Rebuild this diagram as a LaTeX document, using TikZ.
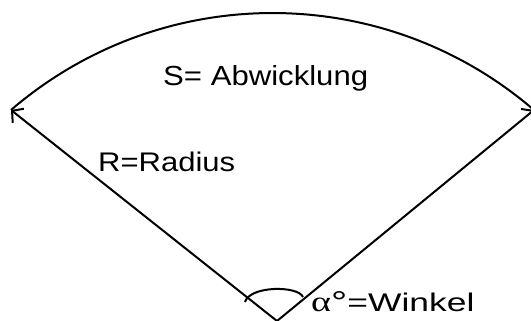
\documentclass[tikz,border=0pt]{standalone}
\usepackage{fontspec}
\setmainfont{Liberation Sans}
\newfontfamily\symfont{Liberation Serif}
\usetikzlibrary{arrows.meta}
\begin{document}
\begin{tikzpicture}[x=1pt,y=1pt,
  edge/.style={line width=2pt},
  tip/.style={-{Straight Barb[length=8pt,width=18pt,line width=2pt]}},
  lbl/.style={inner sep=0pt,font=\fontsize{28}{33}\selectfont}]
\useasboundingbox (0,0) rectangle (531,321);
\coordinate (A) at (277,0);
\coordinate (L) at (11,211);
\coordinate (R) at (534,211);
\draw[edge,tip] (A) -- (L);
\draw[edge,tip] (A) -- (R);
\draw[edge] (L) arc[start angle=130.7,end angle=49.3,radius=401];
\draw[edge] (245,19) .. controls (250,35.5) and (298,35.5) .. (303,24);
\node[lbl,anchor=base west] (s) at (163,235) {\resizebox{205pt}{20pt}{S= Abwicklung}};
\node[lbl,anchor=base west] (r) at (98,149) {\resizebox{137pt}{19.5pt}{R=Radius}};
\node[lbl,anchor=base west] (w) at (311,9) {\resizebox{20pt}{13.5pt}{\symfont α}{\fontsize{30}{30}\selectfont\raisebox{-1pt}{\scalebox{1.35}[1]{°}}}\resizebox{127pt}{18.5pt}{=Winkel}};
\end{tikzpicture}
\end{document}
